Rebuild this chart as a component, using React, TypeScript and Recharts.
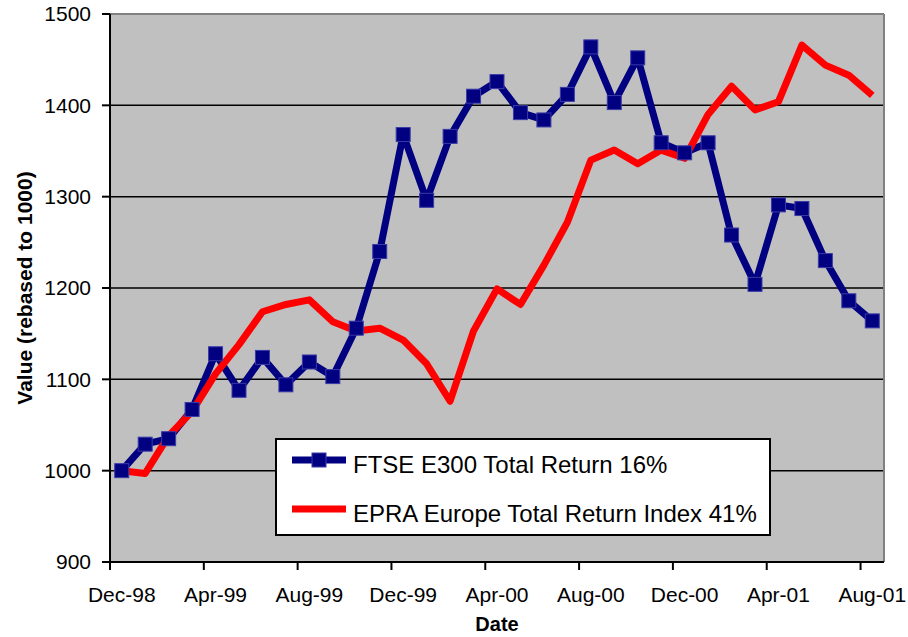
import { LineChart, Line, XAxis, YAxis, CartesianGrid, Legend } from "recharts";

const months = [
  "Dec-98", "Jan-99", "Feb-99", "Mar-99", "Apr-99", "May-99", "Jun-99", "Jul-99", "Aug-99",
  "Sep-99", "Oct-99", "Nov-99", "Dec-99", "Jan-00", "Feb-00", "Mar-00", "Apr-00", "May-00",
  "Jun-00", "Jul-00", "Aug-00", "Sep-00", "Oct-00", "Nov-00", "Dec-00", "Jan-01", "Feb-01",
  "Mar-01", "Apr-01", "May-01", "Jun-01", "Jul-01", "Aug-01",
];

const ftse = [
  1000, 1029, 1035, 1067, 1128, 1088, 1124, 1094, 1119, 1103, 1156, 1240, 1368, 1296, 1366, 1410,
  1426, 1392, 1384, 1412, 1464, 1403, 1452, 1359, 1348, 1359, 1258, 1204, 1291, 1287, 1230, 1186, 1164,
];

const epra = [
  1000, 997, 1038, 1065, 1106, 1138, 1174, 1182, 1187, 1163, 1153, 1156, 1143, 1117, 1076, 1153,
  1199, 1182, 1225, 1272, 1340, 1351, 1336, 1351, 1342, 1390, 1421, 1395, 1404, 1466, 1444, 1433, 1411,
];

const yTicks = [900, 1000, 1100, 1200, 1300, 1400, 1500];

const FTSE_NAME = "FTSE E300 Total Return 16%";
const EPRA_NAME = "EPRA Europe Total Return Index 41%";

const NAVY = "#000080";
const RED = "#FF0000";
const FONT = "'Liberation Sans', Arial, sans-serif";
const HALF_STEP = 774 / 33 / 2;

const data = months.map((m, i) => ({ month: m, ftse: ftse[i], epra: epra[i] }));

const legendRows = [
  { name: FTSE_NAME, color: NAVY, marker: true },
  { name: EPRA_NAME, color: RED, marker: false },
];

function SquareDot(props: any) {
  const { cx, cy, index } = props;
  if (cx == null || cy == null) return <g key={`e-${index}`} />;
  return (
    <rect key={`d-${index}`} x={cx - 7} y={cy - 7} width={14} height={14}
      fill={NAVY} stroke="#3a3aa8" strokeWidth={1} />
  );
}

function MonthTick(props: any) {
  const { x, y, payload } = props;
  return (
    <g>
      <line x1={x - HALF_STEP} x2={x - HALF_STEP} y1={y} y2={y + 8} stroke="#000" strokeWidth={2} />
      <text x={x} y={y + 40} textAnchor="middle" fontFamily={FONT} fontSize={21} fill="#000">
        {payload.value}
      </text>
    </g>
  );
}

function LegendBox() {
  return (
    <svg width={496} height={98} style={{ display: "block" }}>
      <rect x={1} y={1} width={494} height={96} fill="#fff" stroke="#000" strokeWidth={2} />
      {legendRows.map((r, i) => {
        const cy = 22 + i * 49;
        return (
          <g key={r.name}>
            <line x1={17} x2={71} y1={cy} y2={cy} stroke={r.color} strokeWidth={7} />
            {r.marker && (
              <rect x={37} y={cy - 7} width={14} height={14} fill={NAVY} stroke="#3a3aa8" strokeWidth={1} />
            )}
            <text x={78} y={cy + 13} fontFamily={FONT} fontSize={24} fill="#000">
              {r.name}
            </text>
          </g>
        );
      })}
    </svg>
  );
}

export default function App() {
  return (
    <div style={{ position: "absolute", left: 0, top: 0, width: 908, height: 637, background: "#fff" }}>
      <LineChart width={908} height={637} data={data} margin={{ top: 14, right: 24, bottom: 0, left: 0 }}>
        <CartesianGrid vertical={false} stroke="#000" strokeWidth={1.5} fill="#C0C0C0" fillOpacity={1} />
        <CartesianGrid
          stroke="#808080"
          strokeWidth={2}
          horizontalCoordinatesGenerator={({ offset }: any) => [offset.top]}
          verticalCoordinatesGenerator={({ offset }: any) => [offset.left + offset.width]}
        />
        <XAxis
          dataKey="month"
          interval={3}
          height={75}
          padding={{ left: HALF_STEP, right: HALF_STEP }}
          axisLine={{ stroke: "#000", strokeWidth: 2 }}
          tickLine={false}
          tickSize={0}
          tickMargin={0}
          tick={<MonthTick />}
          label={{
            content: ({ viewBox }: any) => (
              <text x={viewBox.x + viewBox.width / 2} y={631} textAnchor="middle"
                fontFamily={FONT} fontSize={20} fontWeight="bold" fill="#000">
                Date
              </text>
            ),
          }}
        />
        <YAxis
          width={110}
          domain={[900, 1500]}
          ticks={yTicks}
          interval={0}
          axisLine={{ stroke: "#000", strokeWidth: 2 }}
          tickLine={{ stroke: "#000", strokeWidth: 2 }}
          tickSize={8}
          tickMargin={11}
          tick={{ fontFamily: FONT, fontSize: 21, fill: "#000" }}
          label={{
            content: ({ viewBox }: any) => {
              const cx = 32;
              const cy = viewBox.y + viewBox.height / 2;
              return (
                <text x={cx} y={cy} transform={`rotate(-90 ${cx} ${cy})`} textAnchor="middle"
                  fontFamily={FONT} fontSize={21} fontWeight="bold" fill="#000">
                  Value (rebased to 1000)
                </text>
              );
            },
          }}
        />
        <Line dataKey="ftse" name={FTSE_NAME} stroke={NAVY} strokeWidth={7}
          dot={false} isAnimationActive={false} strokeLinejoin="round" />
        <Line dataKey="epra" name={EPRA_NAME} stroke={RED} strokeWidth={7}
          dot={false} isAnimationActive={false} strokeLinejoin="round" />
        <Line dataKey="ftse" name="markers" stroke="none" legendType="none" dot={<SquareDot />}
          activeDot={false} isAnimationActive={false} />
        <Legend
          layout="horizontal"
          verticalAlign="middle"
          align="center"
          content={<LegendBox />}
          wrapperStyle={{ position: "absolute", left: 275, top: 438, width: 496, height: 98 }}
        />
      </LineChart>
    </div>
  );
}
